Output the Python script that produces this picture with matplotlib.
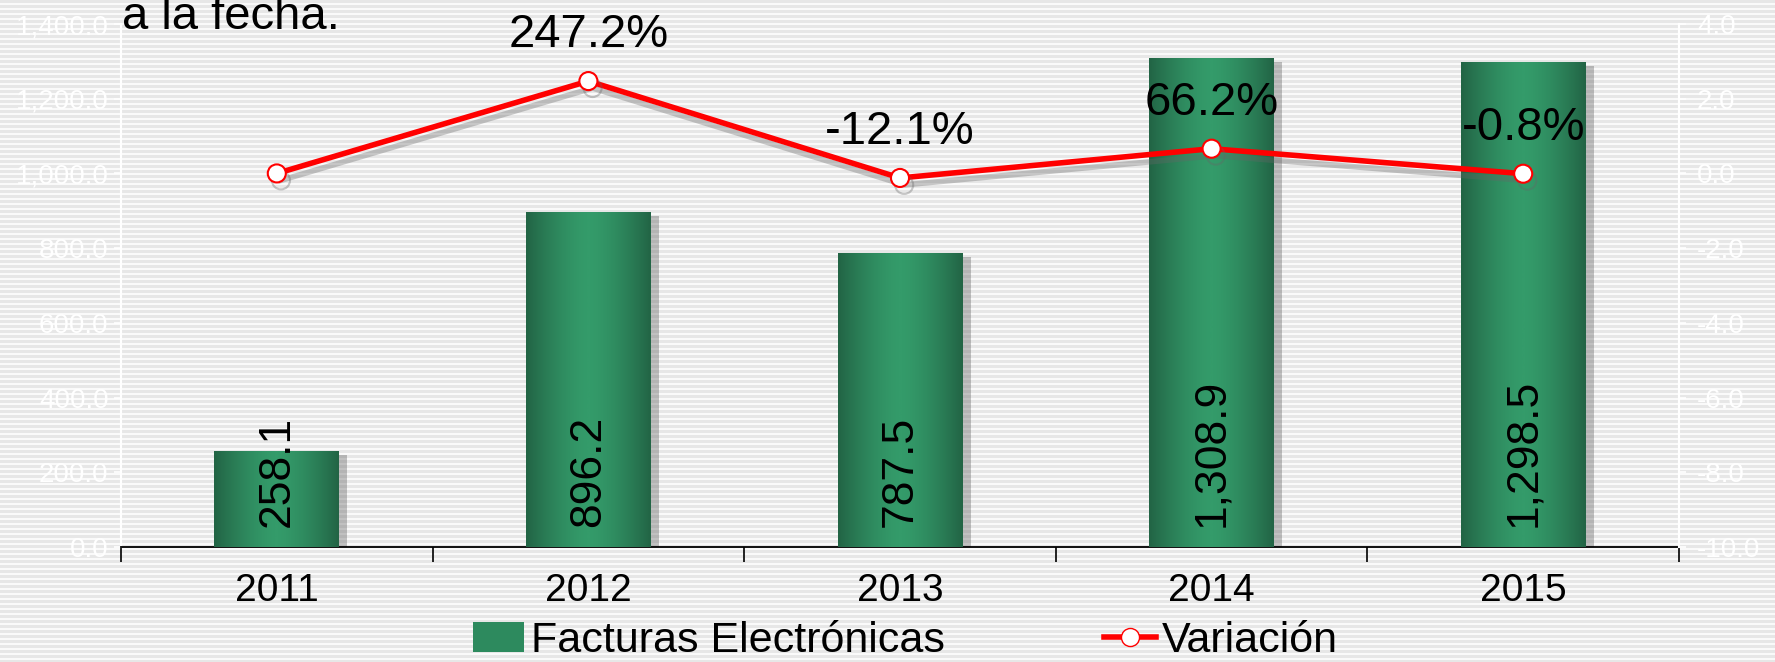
import numpy as np
import matplotlib
matplotlib.use('Agg')
import matplotlib.pyplot as plt
import matplotlib.patheffects as pe
from matplotlib.patches import Patch
from matplotlib.lines import Line2D
from matplotlib.colors import LinearSegmentedColormap
from matplotlib.ticker import FuncFormatter, MultipleLocator, FixedLocator

plt.rcParams.update({"font.family": ["Liberation Sans", "DejaVu Sans"]})

# --- data ---
years = ['2011', '2012', '2013', '2014', '2015']
facturas = [258.1, 896.2, 787.5, 1308.9, 1298.5]
variacion = [0.0, 2.472, -0.121, 0.662, -0.008]
var_labels = ['', '247.2%', '-12.1%', '66.2%', '-0.8%']

W, H = 1775, 662
fig = plt.figure(figsize=(W / 100, H / 100), dpi=100)

# striped background
bg = fig.add_axes([0, 0, 1, 1], zorder=-5)
rows = np.arange(H) % 5
stripe = np.where(rows < 3, 0.905, 0.98)[:, None] * np.ones((1, 4))
bg.imshow(stripe, cmap='gray', vmin=0, vmax=1, aspect='auto', interpolation='nearest')
bg.axis('off')

ax = fig.add_axes([121 / W, 1 - 547 / H, (1679 - 121) / W, (547 - 24) / H])
ax.set_facecolor('none')
x = np.arange(len(years))
bw = 0.4

# green gradient bars with shadow
bars = ax.bar(x, facturas, width=bw, color='#2d8a5e', zorder=2,
              path_effects=[pe.SimplePatchShadow(offset=(6, -3), shadow_rgbFace='#555555', alpha=0.35),
                            pe.Normal()])
grad = np.abs(np.linspace(-1, 1, 200)) ** 1.5
gcmap = LinearSegmentedColormap.from_list('g', ['#349b6a', '#226445'])
for b in bars:
    im = ax.imshow(grad[None, :], cmap=gcmap, aspect='auto', zorder=3,
                   extent=[b.get_x(), b.get_x() + b.get_width(), 0, b.get_height()])
    im.set_clip_path(b)

for xi, v in zip(x, facturas):
    ax.annotate(f'{v:,.1f}', (xi, 0), xytext=(0, 20), textcoords='offset pixels',
                rotation=90, ha='center', va='bottom', fontsize=32, color='black', zorder=5)

ax.set_xlim(-0.5, len(years) - 0.5)
ax.set_ylim(0, 1400)
ax.yaxis.set_major_locator(MultipleLocator(200))
ax.yaxis.set_major_formatter(FuncFormatter(lambda v, p: f'{v:,.1f}'))
ax.tick_params(axis='y', colors='white', labelsize=20, length=5, width=1.2, pad=4)
ax.set_xticks(x)
ax.set_xticklabels(years)
ax.xaxis.set_minor_locator(FixedLocator(np.arange(-0.5, len(years), 1.0)))
ax.tick_params(axis='x', which='major', length=0, labelsize=28, pad=19)
ax.tick_params(axis='x', which='minor', length=11, width=1.2, color='black')
for s in ['top', 'right']:
    ax.spines[s].set_visible(False)
ax.spines['left'].set_color('white')
ax.spines['left'].set_linewidth(1.5)
ax.spines['bottom'].set_color('black')
ax.spines['bottom'].set_linewidth(1.3)

ax2 = ax.twinx()
ax2.set_ylim(-10, 4)
ax2.yaxis.set_major_locator(MultipleLocator(2))
ax2.yaxis.set_major_formatter(FuncFormatter(lambda v, p: f'{v:.1f}'))
ax2.tick_params(axis='y', colors='white', labelsize=20, length=5, width=1.2, pad=8)
for s in ['top', 'left', 'bottom']:
    ax2.spines[s].set_visible(False)
ax2.spines['right'].set_color('white')
ax2.spines['right'].set_linewidth(1.5)
ax2.plot(x, variacion, color='#ff0000', lw=4, marker='o', ms=13, mfc='white',
         mec='#ff0000', mew=1.5, zorder=4,
         path_effects=[pe.SimpleLineShadow(offset=(3, -5), shadow_color='#666666', alpha=0.35),
                       pe.Normal()])
for xi, v, lab in zip(x, variacion, var_labels):
    if lab:
        ax2.annotate(lab, (xi, v), xytext=(0, 46), textcoords='offset pixels',
                     ha='center', va='center', fontsize=34, color='black', zorder=6)

fig.text(122 / W, 1 - 29 / H, 'a la fecha.', fontsize=34, ha='left', va='baseline')

handles = [Patch(facecolor='#2d8a5e', edgecolor='none'),
           Line2D([0], [0], color='#ff0000', lw=4, marker='o', ms=13, mfc='white', mec='#ff0000')]
fig.legend(handles, ['Facturas Electrónicas', 'Variación'], loc='center',
           bbox_to_anchor=(0.51, 1 - 641 / H), ncol=2, frameon=False, fontsize=31,
           handlelength=1.2, handletextpad=0.15, columnspacing=3.7, borderaxespad=0)

fig.savefig('out.png', dpi=100)
